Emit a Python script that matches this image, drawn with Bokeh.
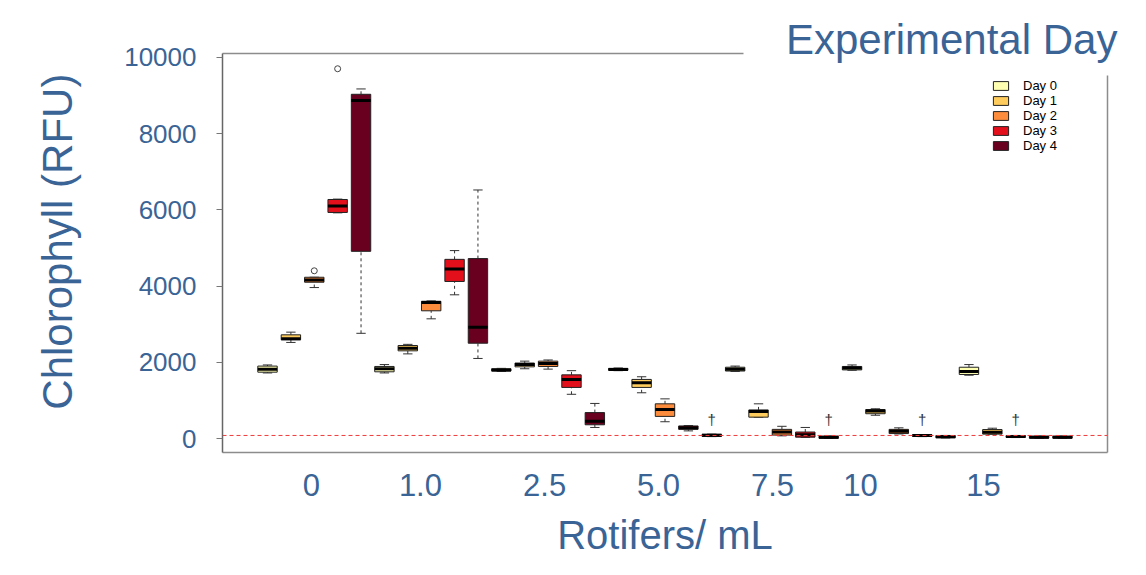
from bokeh.plotting import figure
from bokeh.models import (ColumnDataSource, Range1d, LinearAxis, FixedTicker, Span)
from bokeh.core.properties import value
from bokeh.embed import file_html
from bokeh.resources import INLINE

# ---------------- data ----------------
groups = ["0", "1.0", "2.5", "5.0", "7.5", "10", "15"]          # Rotifers / mL
days = ["Day 0", "Day 1", "Day 2", "Day 3", "Day 4"]
day_colors = ["#FFFFB2", "#FECC5C", "#FD8D3C", "#E3101C", "#6A001F"]

# five-number summaries, ordered group by group, day 0..4 inside each group
lower_whisker = [1720, 2520, 3960, 5920, 2760,
                 1720, 2220, 3140, 3770, 2100,
                 1760, 1830, 1820, 1160, 290,
                 1780, 1200, 440, 200, 50,
                 1760, 560, 70, 30, 0,
                 1790, 610, 120, 50, 15,
                 1660, 110, 25, 5, 5]
q1 = [1740, 2590, 4100, 5930, 4910,
      1750, 2300, 3350, 4120, 2500,
      1770, 1880, 1890, 1340, 360,
      1790, 1340, 580, 240, 55,
      1770, 560, 90, 35, 5,
      1800, 650, 130, 55, 20,
      1680, 115, 30, 10, 10]
median = [1820, 2620, 4160, 6100, 8870,
          1830, 2370, 3570, 4450, 2920,
          1800, 1940, 1970, 1550, 450,
          1810, 1460, 760, 280, 85,
          1820, 710, 170, 100, 30,
          1850, 720, 190, 80, 45,
          1760, 165, 55, 35, 35]
q3 = [1900, 2720, 4230, 6270, 9030,
      1890, 2440, 3600, 4700, 4720,
      1830, 1980, 2030, 1670, 680,
      1840, 1550, 910, 330, 110,
      1870, 750, 240, 170, 60,
      1890, 760, 240, 100, 75,
      1870, 235, 75, 60, 60]
upper_whisker = [1930, 2790, 4230, 6280, 9170,
                 1940, 2470, 3610, 4930, 6520,
                 1840, 2030, 2060, 1780, 920,
                 1850, 1620, 1040, 340, 115,
                 1900, 910, 320, 290, 65,
                 1930, 780, 280, 105, 80,
                 1940, 270, 80, 65, 65]
outlier_box = [2, 3]            # box index (0-based)
outlier_value = [4400, 9700]
dead_box = [19, 24, 28, 32]     # boxes marked with a dagger
reference_level = 80            # red dashed line (RFU)
y_ticks = [0, 2000, 4000, 6000, 8000, 10000]

# ---------------- layout / style constants ----------------
BLUE = "#3a6496"
FONT = "Liberation Sans"
BOX_W = 0.83
CAP_W = 0.40
DAGGER_Y = 500
X0, X1 = -0.925, 36.925
Y0, Y1 = -367, 10100
label_pos = [2.88, 7.54, 12.85, 17.72, 22.6, 26.36, 31.62]
TITLE_X = 30.26          # centre of "Experimental Day"
YTITLE_Y = 5164          # centre of the y title
TOP_LINE_END = 21.36
RIGHT_LINE_END = 9515

n = len(median)
positions = [i + 1 for i in range(n)]

p = figure(width=1146, height=575,
           x_range=Range1d(X0, X1), y_range=Range1d(Y0, Y1),
           output_backend="svg", toolbar_location=None,
           min_border_left=222, min_border_right=39,
           min_border_top=53, min_border_bottom=123)
p.outline_line_color = None
p.xgrid.visible = False
p.ygrid.visible = False
p.background_fill_color = "white"
p.border_fill_color = "white"

# reference line
p.add_layout(Span(location=reference_level, dimension="width",
                  line_color="#f03c3c", line_dash="4 3", line_width=1))

for d in range(len(days)):
    idx = [i for i in range(n) if i % len(days) == d]
    x = [positions[i] for i in idx]
    src = ColumnDataSource(dict(
        x=x,
        lw=[lower_whisker[i] for i in idx],
        q1=[q1[i] for i in idx],
        med=[median[i] for i in idx],
        q3=[q3[i] for i in idx],
        uw=[upper_whisker[i] for i in idx],
        mx0=[v - BOX_W / 2 for v in x],
        mx1=[v + BOX_W / 2 for v in x],
        cx0=[v - CAP_W / 2 for v in x],
        cx1=[v + CAP_W / 2 for v in x],
    ))
    p.segment(x0="x", x1="x", y0="q3", y1="uw", source=src,
              line_color="#333333", line_width=1, line_dash="3 3")
    p.segment(x0="x", x1="x", y0="lw", y1="q1", source=src,
              line_color="#333333", line_width=1, line_dash="3 3")
    p.segment(x0="cx0", x1="cx1", y0="uw", y1="uw", source=src,
              line_color="#333333", line_width=1)
    p.segment(x0="cx0", x1="cx1", y0="lw", y1="lw", source=src,
              line_color="#333333", line_width=1)
    p.vbar(x="x", width=BOX_W, bottom="q1", top="q3", source=src,
           fill_color=day_colors[d], line_color="#222222", line_width=1,
           legend_label=days[d])
    p.segment(x0="mx0", x1="mx1", y0="med", y1="med", source=src,
              line_color="black", line_width=3)

# outliers
p.scatter(x=[positions[i] for i in outlier_box], y=outlier_value,
          marker="circle", size=6, fill_color=None, line_color="#444444",
          line_width=1)

# daggers
p.text(x=[positions[i] for i in dead_box], y=[DAGGER_Y] * len(dead_box),
       text=["\u2020"] * len(dead_box), text_align="center",
       text_baseline="middle", text_font=value(FONT),
       text_font_size="15px", text_color="#333333")

# bottom axis
xa = p.xaxis[0]
xa.ticker = FixedTicker(ticks=label_pos)
xa.major_label_overrides = {lp: g for lp, g in zip(label_pos, groups)}
xa.major_tick_line_color = None
xa.minor_tick_line_color = None
xa.major_tick_out = 0
xa.major_label_text_font = FONT
xa.major_label_text_font_size = "31px"
xa.major_label_text_color = BLUE
xa.major_label_standoff = 21
xa.axis_line_color = "#8c8c8c"
xa.axis_line_width = 1.5
xa.axis_label = "Rotifers/ mL"
xa.axis_label_text_font = FONT
xa.axis_label_text_font_size = "40px"
xa.axis_label_text_font_style = "normal"
xa.axis_label_text_color = BLUE
xa.axis_label_standoff = 14

# left axis
ya = p.yaxis[0]
ya.ticker = FixedTicker(ticks=y_ticks)
ya.minor_tick_line_color = None
ya.major_tick_out = 6
ya.major_tick_in = 0
ya.major_tick_line_color = "#777777"
ya.major_label_text_font = FONT
ya.major_label_text_font_size = "26px"
ya.major_label_text_color = BLUE
ya.major_label_standoff = 20
ya.axis_line_color = "#666666"
ya.axis_line_width = 1.5

# y title (second left axis carrying a single rotated label)
ytitle = LinearAxis(ticker=FixedTicker(ticks=[YTITLE_Y]),
                    major_label_overrides={YTITLE_Y: "Chlorophyll (RFU)"},
                    major_label_orientation="vertical",
                    major_label_text_font=FONT, major_label_text_font_size="42px",
                    major_label_text_color=BLUE, major_label_standoff=40,
                    major_tick_out=0, major_tick_line_color=None,
                    minor_tick_line_color=None, axis_line_color=None)
p.add_layout(ytitle, "left")

# top frame line (partial, as in the slide)
top_axis = LinearAxis(ticker=FixedTicker(ticks=[]), bounds=(X0, TOP_LINE_END),
                      major_label_text_font_size="0px", major_label_standoff=0,
                      major_tick_out=0, major_tick_line_color=None,
                      minor_tick_line_color=None,
                      axis_line_color="#8c8c8c", axis_line_width=1.5)
p.add_layout(top_axis, "above")

# "Experimental Day" heading (second top axis with a single label)
head = LinearAxis(ticker=FixedTicker(ticks=[TITLE_X]),
                  major_label_overrides={TITLE_X: "Experimental Day"},
                  major_label_text_font=FONT, major_label_text_font_size="42px",
                  major_label_text_color=BLUE, major_label_standoff=-9,
                  major_tick_out=0, major_tick_line_color=None,
                  minor_tick_line_color=None, axis_line_color=None)
p.add_layout(head, "above")

# right frame line (partial)
right_axis = LinearAxis(ticker=FixedTicker(ticks=[]), bounds=(Y0, RIGHT_LINE_END),
                        major_label_text_font_size="0px", major_label_standoff=0,
                        major_tick_out=0, major_tick_line_color=None,
                        minor_tick_line_color=None,
                        axis_line_color="#8c8c8c", axis_line_width=1.5)
p.add_layout(right_axis, "right")

# legend
lg = p.legend[0]
lg.location = (769, 299)
lg.padding = 0
lg.margin = 0
lg.spacing = 0
lg.border_line_color = None
lg.background_fill_alpha = 0
lg.glyph_width = 19
lg.glyph_height = 11
lg.label_standoff = 13
lg.label_height = 15
lg.label_text_font = FONT
lg.label_text_font_size = "13px"
lg.label_text_color = "black"

open("out.html", "w").write(file_html(p, INLINE))
